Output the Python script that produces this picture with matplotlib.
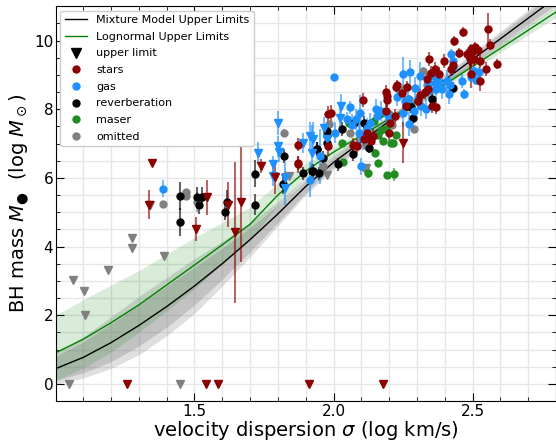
import matplotlib
matplotlib.use("Agg")
import matplotlib.pyplot as plt
from matplotlib.colors import to_rgba
from matplotlib.lines import Line2D
from matplotlib.ticker import MultipleLocator

# -------------------------------
# MODEL CURVES
# -------------------------------
x_band = [1.0, 1.1, 1.2, 1.3, 1.4, 1.5, 1.6, 1.7, 1.8, 1.9, 2.0, 2.2, 2.4, 2.6, 2.8]

mix_line = [0.44, 0.77, 1.2, 1.7, 2.25, 2.85, 3.5, 4.2, 4.95, 5.75, 6.45, 7.65, 8.85, 10.05, 11.25]
mix_in_lo = [0.09, 0.32, 0.65, 1.10, 1.65, 2.30, 3.05, 3.85, 4.70, 5.57, 6.31, 7.53, 8.73, 9.90, 11.05]
mix_in_hi = [0.79, 1.22, 1.75, 2.30, 2.85, 3.40, 3.95, 4.55, 5.20, 5.93, 6.59, 7.77, 8.97, 10.20, 11.45]
mix_out_lo = [-0.01, 0.17, 0.45, 0.85, 1.40, 2.05, 2.85, 3.70, 4.60, 5.50, 6.25, 7.48, 8.68, 9.83, 10.97]
mix_out_hi = [0.89, 1.37, 1.95, 2.55, 3.10, 3.65, 4.15, 4.70, 5.30, 6.00, 6.65, 7.82, 9.02, 10.27, 11.53]

logn_line = [0.9, 1.3, 1.78, 2.3, 2.88, 3.46, 4.05, 4.65, 5.5, 6.2, 6.75, 7.72, 8.72, 9.77, 10.83]
logn_lo = [0.10, 0.45, 0.93, 1.50, 2.13, 2.76, 3.50, 4.20, 5.20, 6.00, 6.60, 7.62, 8.62, 9.65, 10.68]
logn_hi = [2.00, 2.45, 2.88, 3.30, 3.78, 4.26, 4.70, 5.15, 5.85, 6.42, 6.90, 7.82, 8.82, 9.89, 10.98]

# -------------------------------
# MEASUREMENTS: detections (circles)
# -------------------------------
stars_x = [1.874, 1.871, 1.873, 1.981, 1.981, 1.99, 2.105, 2.122, 2.12, 2.086, 2.11, 2.141, 2.134,
           2.189, 2.191, 2.193, 2.189, 2.203, 2.22, 2.225, 2.23, 2.245, 2.263, 2.261, 2.31, 2.305,
           2.335, 2.35, 2.345, 2.354, 2.367, 2.366, 2.34, 2.33, 2.396, 2.38, 2.422, 2.43, 2.435,
           2.451, 2.464, 2.48, 2.49, 2.495, 2.5, 2.51, 2.52, 2.505, 2.527, 2.525, 2.547, 2.554,
           2.564, 2.588, 2.494, 2.2, 2.07]
stars_y = [6.44, 6.97, 6.39, 6.93, 7.85, 7.88, 8.27, 7.32, 7.2, 6.93, 7.12, 7.22, 7.07,
           8.5, 8.37, 8.27, 7.95, 7.61, 7.8, 8.65, 8.7, 8.47, 8.66, 8.1, 8.4, 8.25,
           8.88, 9.05, 9.46, 8.1, 8.05, 9.17, 8.6, 8.5, 9.41, 9.02, 9.17, 9.3, 9.99,
           9.64, 10.24, 9.61, 9.65, 9.75, 9.7, 9.8, 9.72, 9.45, 9.41, 8.83, 9.17, 10.34,
           9.88, 9.32, 9.02, 7.3, 6.95]
stars_err = [0.2, 0.2, 0.25, 0.3, 0.25, 0.25, 0.2, 0.2, 0.2, 0.2, 0.2, 0.2, 0.2,
             0.2, 0.2, 0.2, 0.2, 0.2, 0.2, 0.15, 0.15, 0.15, 0.15, 0.2, 0.2, 0.2,
             0.2, 0.2, 0.2, 0.2, 0.2, 0.2, 0.2, 0.2, 0.2, 0.2, 0.2, 0.2, 0.15,
             0.15, 0.15, 0.15, 0.15, 0.15, 0.15, 0.15, 0.15, 0.2, 0.2, 0.3, 0.2, 0.45,
             0.15, 0.15, 0.4, 0.2, 0.2]

gas_x = [1.388, 2.002, 1.915, 1.951, 2.005, 2.059, 2.047, 2.095, 2.093, 2.107, 2.12, 2.098,
         2.153, 2.155, 2.17, 2.191, 2.2, 2.227, 2.251, 2.275, 2.257, 2.268, 2.251, 2.273,
         2.29, 2.293, 2.302, 2.315, 2.333, 2.34, 2.345, 2.312, 2.36, 2.365, 2.37, 2.378,
         2.39, 2.408, 2.414, 2.42, 2.422, 2.43, 2.428, 2.462, 2.468, 2.494, 2.505, 2.514,
         2.524, 2.065, 2.13, 2.08]
gas_y = [5.68, 8.93, 5.95, 6.63, 7.32, 8.05, 7.71, 7.9, 7.32, 7.12, 7.45, 6.34,
         8.0, 7.8, 7.95, 7.85, 7.7, 8.34, 9.02, 9.09, 8.24, 8.3, 7.9, 7.56,
         7.95, 8.63, 8.29, 8.1, 8.0, 8.75, 8.55, 8.97, 8.97, 8.75, 8.6, 8.8,
         8.6, 8.83, 8.44, 8.7, 9.61, 9.4, 9.22, 8.83, 8.44, 8.93, 9.12, 8.86,
         9.07, 7.55, 7.6, 7.7]
gas_err = [0.25, 0.05, 0.5, 0.8, 0.3, 0.2, 0.2, 0.5, 0.3, 0.3, 0.3, 0.25,
           0.3, 0.3, 0.3, 0.3, 0.3, 0.25, 0.5, 0.35, 0.3, 0.3, 0.4, 0.35,
           0.3, 0.3, 0.3, 0.3, 0.3, 0.3, 0.3, 0.4, 0.3, 0.3, 0.3, 0.3,
           0.3, 0.3, 0.3, 0.3, 0.15, 0.15, 0.2, 0.2, 0.15, 0.15, 0.15, 0.15,
           0.15, 0.3, 0.3, 0.3]

rev_x = [1.448, 1.448, 1.508, 1.518, 1.526, 1.608, 1.617, 1.718, 1.718, 1.823, 1.818,
         1.889, 1.922, 1.948, 1.939, 1.961, 1.975, 1.978, 2.015, 2.032, 2.074, 2.069,
         2.11, 2.128, 2.264, 2.278, 2.287, 2.354, 2.431, 1.942, 1.925]
rev_y = [5.47, 4.72, 5.44, 5.2, 5.44, 5.01, 5.3, 6.12, 5.22, 6.63, 5.83,
         6.13, 6.19, 6.13, 6.83, 6.58, 7.02, 7.36, 6.39, 7.43, 7.59, 6.68,
         7.61, 6.88, 8.1, 8.05, 7.73, 8.29, 8.63, 6.83, 6.19]
rev_err = [0.4, 0.4, 0.3, 0.25, 0.3, 0.25, 0.35, 0.4, 0.3, 0.2, 0.3,
           0.2, 0.2, 0.2, 0.2, 0.2, 0.2, 0.2, 0.2, 0.2, 0.15, 0.2,
           0.2, 0.15, 0.15, 0.15, 0.15, 0.2, 0.15, 0.2, 0.2]

maser_x = [2.035, 2.057, 2.147, 2.149, 2.125, 2.161, 2.167, 2.189, 2.16, 2.179, 2.205,
           2.215, 2.225, 2.191, 2.218, 1.975, 2.029, 2.172]
maser_y = [6.46, 7.59, 7.66, 6.73, 6.14, 6.42, 7.85, 7.41, 7.25, 7.07, 7.02,
           7.02, 7.24, 6.08, 6.1, 7.22, 7.02, 7.38]
maser_err = [0.05, 0.05, 0.1, 0.1, 0.15, 0.05, 0.05, 0.05, 0.05, 0.05, 0.05,
             0.05, 0.05, 0.1, 0.2, 0.05, 0.05, 0.05]

omit_x = [1.387, 1.471, 1.471, 1.51, 1.963, 1.985, 2.122, 2.113, 2.254, 2.291, 2.323,
          2.24, 2.2, 2.21, 2.335, 2.27, 1.823, 1.975, 2.06]
omit_y = [5.25, 5.58, 5.46, 5.3, 6.34, 7.56, 6.93, 6.29, 8.6, 7.43, 9.12,
          8.45, 7.85, 7.55, 8.7, 8.3, 7.32, 7.27, 7.3]
omit_err = [0.05, 0.05, 0.05, 0.3, 0.1, 0.1, 0.1, 0.1, 0.1, 0.1, 0.1,
            0.1, 0.1, 0.1, 0.1, 0.1, 0.1, 0.1, 0.1]

# -------------------------------
# MEASUREMENTS: upper limits (triangles)
# -------------------------------
stars_ul_x = [1.346, 1.336, 1.256, 1.505, 1.545, 1.54, 1.584, 1.619, 1.645, 1.669, 1.741,
              1.79, 1.912, 2.178, 2.249, 2.489]
stars_ul_y = [6.44, 5.22, 0.0, 4.51, 5.43, 0.0, 0.0, 5.22, 4.41, 5.3, 6.34,
              6.03, 0.0, 0.0, 7.02, 9.38]
stars_ul_err = [0.0, 0.42, 0.0, 0.35, 0.5, 0.0, 0.0, 0.65, 2.05, 1.75, 0.2,
                0.5, 0.0, 0.0, 0.6, 0.5]

gas_ul_x = [1.729, 1.781, 1.801, 1.801, 1.783, 1.826, 1.825, 1.891, 1.917, 1.927, 1.921,
            1.967, 1.975, 2.026, 2.023, 1.805]
gas_ul_y = [6.73, 6.39, 7.61, 6.92, 6.05, 6.0, 5.71, 7.02, 7.22, 7.12, 6.73,
            7.46, 7.14, 8.1, 7.75, 6.75]
gas_ul_err = [0.3, 0.25, 0.35, 0.3, 0.3, 0.45, 0.5, 0.3, 0.4, 0.5, 0.8,
              0.3, 0.3, 0.35, 0.3, 0.3]

omit_ul_x = [1.062, 1.101, 1.107, 1.189, 1.275, 1.276, 1.39, 1.047, 1.449, 1.341,
             1.841, 1.975, 2.117]
omit_ul_y = [3.02, 2.71, 2.01, 3.32, 4.25, 3.96, 3.73, 0.0, 0.0, 5.2,
             6.05, 6.07, 6.29]

# -------------------------------
# PLOT
# -------------------------------
fig = plt.figure(figsize=(5.56, 4.41), dpi=100)
ax = fig.add_axes([0.1007, 0.0907, 0.8993, 0.8953])

ax.fill_between(x_band, mix_out_lo, mix_out_hi, color="gray", alpha=0.25, lw=0)
ax.fill_between(x_band, mix_in_lo, mix_in_hi, color="gray", alpha=0.3, lw=0)
ax.fill_between(x_band, logn_lo, logn_hi, color="green", alpha=0.15, lw=0)
ax.plot(x_band, mix_line, color="black", lw=1)
ax.plot(x_band, logn_line, color="green", lw=1)


def draw(x, y, err, color, marker, ms=5):
    ax.errorbar(x, y, yerr=err, fmt=marker, ms=ms, color=color,
                ecolor=to_rgba(color, 0.6), elinewidth=1.5, capsize=0, zorder=3)


draw(omit_x, omit_y, omit_err, "gray", "o")
draw(omit_ul_x, omit_ul_y, None, "gray", "v", 6)
draw(maser_x, maser_y, maser_err, "forestgreen", "o")
draw(rev_x, rev_y, rev_err, "black", "o")
draw(gas_x, gas_y, gas_err, "dodgerblue", "o")
draw(gas_ul_x, gas_ul_y, gas_ul_err, "dodgerblue", "v", 6)
draw(stars_x, stars_y, stars_err, "darkred", "o")
draw(stars_ul_x, stars_ul_y, stars_ul_err, "darkred", "v", 6)

ax.set_xlim(1.002, 2.8)
ax.set_ylim(-0.5, 11)
ax.xaxis.set_major_locator(MultipleLocator(0.5))
ax.xaxis.set_minor_locator(MultipleLocator(0.1))
ax.yaxis.set_major_locator(MultipleLocator(2))
ax.yaxis.set_minor_locator(MultipleLocator(0.5))
ax.grid(which="both", color="#e6e6e6", lw=1)
ax.set_axisbelow(True)
ax.tick_params(which="both", direction="in", top=True, right=True, labelsize=11, pad=2)
ax.tick_params(which="major", length=6)
ax.tick_params(which="minor", length=3)

ax.set_xlabel(r"velocity dispersion $\sigma$ (log km/s)", fontsize=14, labelpad=0)
ax.set_ylabel(r"BH mass $M_●$  (log $M_\odot$)", fontsize=14, labelpad=2)

handles = [
    Line2D([], [], color="black", lw=1, label="Mixture Model Upper Limits"),
    Line2D([], [], color="green", lw=1, label="Lognormal Upper Limits"),
    Line2D([], [], color="black", marker="v", ls="", ms=7, label="upper limit"),
    Line2D([], [], color="darkred", marker="o", ls="", ms=5, label="stars"),
    Line2D([], [], color="dodgerblue", marker="o", ls="", ms=5, label="gas"),
    Line2D([], [], color="black", marker="o", ls="", ms=5, label="reverberation"),
    Line2D([], [], color="forestgreen", marker="o", ls="", ms=5, label="maser"),
    Line2D([], [], color="gray", marker="o", ls="", ms=5, label="omitted"),
]
ax.legend(handles=handles, loc="upper left", fontsize=8, framealpha=1,
          borderaxespad=0.4, handlelength=2.0, labelspacing=0.6)

fig.savefig("out.png", dpi=100)
